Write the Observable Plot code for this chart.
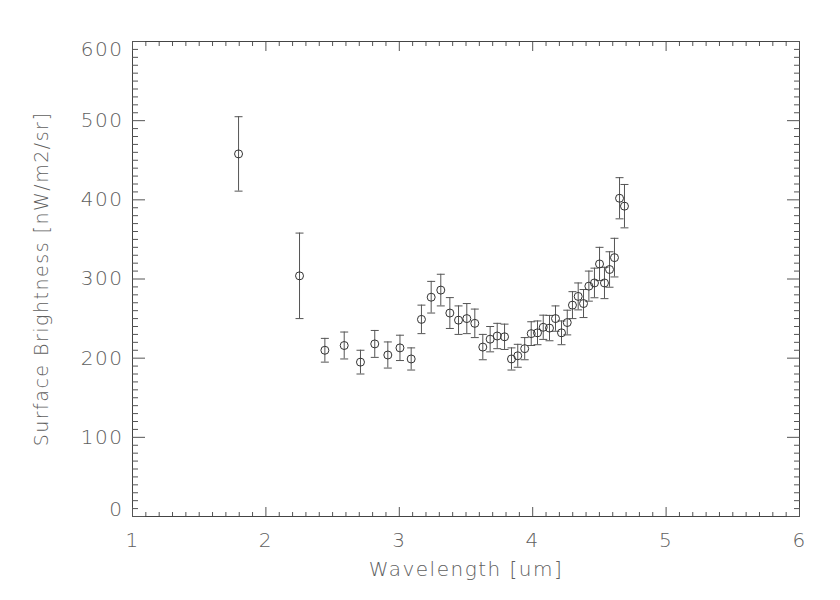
<!DOCTYPE html>
<html>
<head>
<meta charset="utf-8">
<script src="https://cdn.jsdelivr.net/npm/d3@7"></script>
<script src="https://cdn.jsdelivr.net/npm/@observablehq/plot@0.6"></script>
<style>
  html, body { margin: 0; padding: 0; background: #fff; }
  #chart svg { display: block; }
  #chart svg text { letter-spacing: 1.5px; font-weight: 300; }
</style>
</head>
<body>
<div id="chart"></div>
<script>
const wavelength = [1.795, 2.252, 2.442, 2.587, 2.709, 2.816, 2.914, 3.005, 3.089, 3.166,
  3.239, 3.311, 3.379, 3.444, 3.506, 3.566, 3.626, 3.681, 3.734, 3.789,
  3.841, 3.888, 3.940, 3.989, 4.036, 4.079, 4.126, 4.171, 4.216, 4.259,
  4.298, 4.341, 4.381, 4.421, 4.463, 4.501, 4.538, 4.576, 4.613, 4.651, 4.688];
const brightness = [458, 304, 210, 216, 195, 218, 204, 213, 199, 249,
  277, 286, 257, 248, 250, 244, 214, 224, 228, 227,
  199, 203, 212, 231, 232, 239, 238, 250, 232, 245,
  267, 278, 269, 291, 295, 319, 295, 312, 327, 402, 392];
const uncertainty = [47, 54, 15, 17, 15, 17, 16.5, 16, 14, 18,
  20, 20, 19.5, 18, 19, 18, 16, 16, 16, 16,
  14, 14.5, 14, 15, 15, 15.3, 16, 16, 15, 15.6,
  17, 17, 17.7, 19, 18.7, 21, 19.8, 22.4, 24.4, 26, 27.4];

const xMajor = [1, 2, 3, 4, 5, 6];
const yMajor = [0, 100, 200, 300, 400, 500, 600];
const yInner = [100, 200, 300, 400, 500];
const xMinor = d3.range(10, 61).map(d => d / 10).filter(d => !Number.isInteger(d));
const yMinor = d3.range(0, 61).map(d => d * 10).filter(d => d % 100 !== 0);

const data = wavelength.map((w, i) => ({
  w, b: brightness[i], lo: brightness[i] - uncertainty[i], hi: brightness[i] + uncertainty[i]
}));

const cap = {
  draw(context, size) {
    const w = Math.sqrt(size) * 0.5;
    context.moveTo(-w, 0);
    context.lineTo(w, 0);
  }
};

const ink = "#555";
const textInk = "#606060";
const font = "'DejaVu Sans', sans-serif";
const blank = () => "";
const yLabelOpts = { anchor: "left", tickSize: 0, tickPadding: 9, fontSize: 20, fill: textInk,
  tickFormat: d3.format("d"), label: null };

const plot = Plot.plot({
  width: 840,
  height: 600,
  marginLeft: 132,
  marginRight: 41,
  marginTop: 41,
  marginBottom: 84,
  style: { fontFamily: font, fontSize: "19px", color: textInk, background: "#fff" },
  x: { domain: [1, 6], label: null },
  y: { domain: [0, 600], label: null },
  marks: [
    Plot.frame({ stroke: "#444" }),
    // minor ticks, all four sides, pointing inward
    Plot.axisX(xMinor, { anchor: "bottom", tickSize: -4, tickFormat: blank, stroke: ink }),
    Plot.axisX(xMinor, { anchor: "top", tickSize: -4, tickFormat: blank, stroke: ink }),
    Plot.axisY(yMinor, { anchor: "left", tickSize: -6, tickFormat: blank, stroke: ink }),
    Plot.axisY(yMinor, { anchor: "right", tickSize: -6, tickFormat: blank, stroke: ink }),
    // major ticks
    Plot.axisX(xMajor, { anchor: "bottom", tickSize: -9, tickFormat: blank, stroke: ink }),
    Plot.axisX(xMajor, { anchor: "top", tickSize: -9, tickFormat: blank, stroke: ink }),
    Plot.axisY(yMajor, { anchor: "left", tickSize: -13, tickFormat: blank, stroke: ink }),
    Plot.axisY(yMajor, { anchor: "right", tickSize: -13, tickFormat: blank, stroke: ink }),
    // labels
    Plot.axisX(xMajor, { anchor: "bottom", tickSize: 0, tickPadding: 16, fontSize: 20, fill: textInk,
      tickFormat: d3.format("d"),
      label: "Wavelength [um]", labelAnchor: "center", labelArrow: "none", labelOffset: 59 }),
    Plot.axisY(yInner, yLabelOpts),
    Plot.axisY([0], { ...yLabelOpts, dy: -6.5 }),
    Plot.axisY([600], { ...yLabelOpts, dy: 8 }),
    Plot.axisY([], { anchor: "left", tickSize: 0, fontSize: 19, fill: textInk,
      label: "Surface Brightness [nW/m2/sr]", labelAnchor: "center", labelArrow: "none", labelOffset: 98 }),
    // error bars
    Plot.ruleX(data, { x: "w", y1: "lo", y2: "hi", stroke: ink, strokeWidth: 1 }),
    Plot.dot(data, { x: "w", y: "hi", symbol: cap, r: 4.5, stroke: ink, strokeWidth: 1 }),
    Plot.dot(data, { x: "w", y: "lo", symbol: cap, r: 4.5, stroke: ink, strokeWidth: 1 }),
    // points
    Plot.dot(data, { x: "w", y: "b", r: 4, stroke: "#333", fill: "none", strokeWidth: 1 })
  ]
});

document.getElementById("chart").appendChild(plot);
</script>
</body>
</html>
